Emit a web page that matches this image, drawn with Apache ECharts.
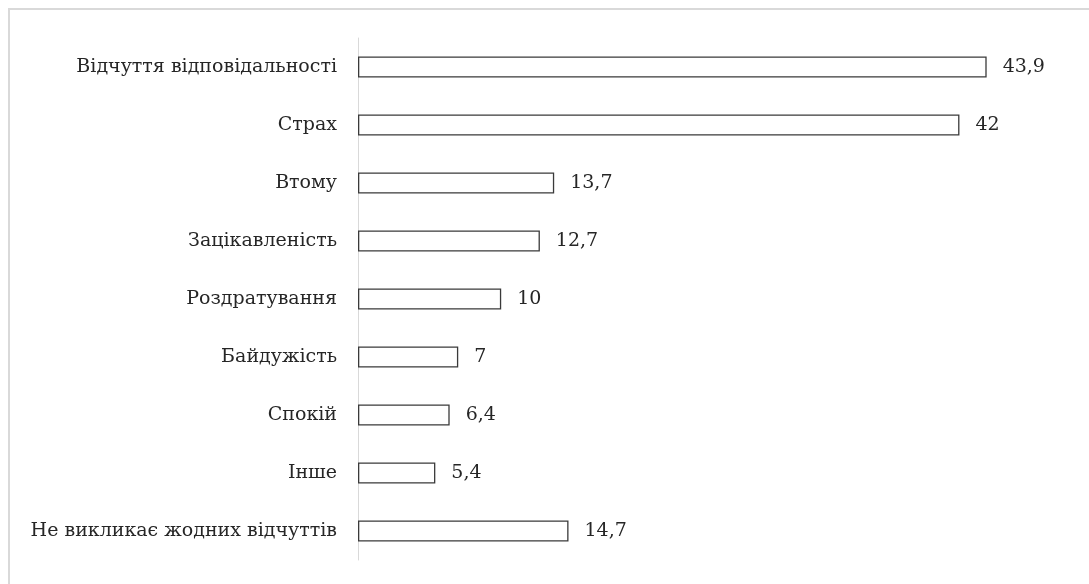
<!DOCTYPE html>
<html>
<head>
<meta charset="utf-8">
<script src="https://cdn.jsdelivr.net/npm/echarts@6/dist/echarts.min.js"></script>
<style>
  html, body { margin: 0; padding: 0; background: #fff; }
  #chart { width: 1089px; height: 584px; }
</style>
</head>
<body>
<div id="chart"></div>
<script>
// categories, top to bottom
const categories = [
  "Відчуття відповідальності",
  "Страх",
  "Втому",
  "Зацікавленість",
  "Роздратування",
  "Байдужість",
  "Спокій",
  "Інше",
  "Не викликає жодних відчуттів"
];

// values, same order
const values = [43.9, 42, 13.7, 12.7, 10, 7, 6.4, 5.4, 14.7];

const labelFont = "DejaVu Serif";

const chart = echarts.init(document.getElementById("chart"));

const option = {
  backgroundColor: "#fff",
  animation: false,
  textStyle: {
    fontFamily: labelFont
  },
  // outer frame, cropped at right and bottom like the picture
  graphic: [
    {
      type: "rect",
      shape: { x: 9, y: 9, width: 1200, height: 700 },
      style: { fill: "none", stroke: "#d9d9d9", lineWidth: 2 },
      silent: true
    }
  ],
  grid: {
    left: 358,
    right: 15,
    top: 38,
    bottom: 24,
    containLabel: false
  },
  xAxis: {
    type: "value",
    min: 0,
    max: 50,
    show: false
  },
  yAxis: {
    type: "category",
    data: categories,
    inverse: true,
    axisLine: { show: true, lineStyle: { color: "#d9d9d9", width: 1 } },
    axisTick: { show: false },
    axisLabel: {
      color: "#262626",
      fontSize: 19,
      margin: 21,
      fontFamily: labelFont
    },
    splitLine: { show: false }
  },
  series: [
    {
      type: "bar",
      data: values,
      barWidth: 21,
      itemStyle: {
        color: "#ffffff",
        borderColor: "#3a3a3a",
        borderWidth: 1.3
      },
      label: {
        show: true,
        position: "right",
        distance: 16,
        color: "#262626",
        fontSize: 19,
        fontFamily: labelFont,
        formatter: function (p) {
          return String(p.value).replace(".", ",");
        }
      }
    }
  ]
};

chart.setOption(option);
</script>
</body>
</html>
